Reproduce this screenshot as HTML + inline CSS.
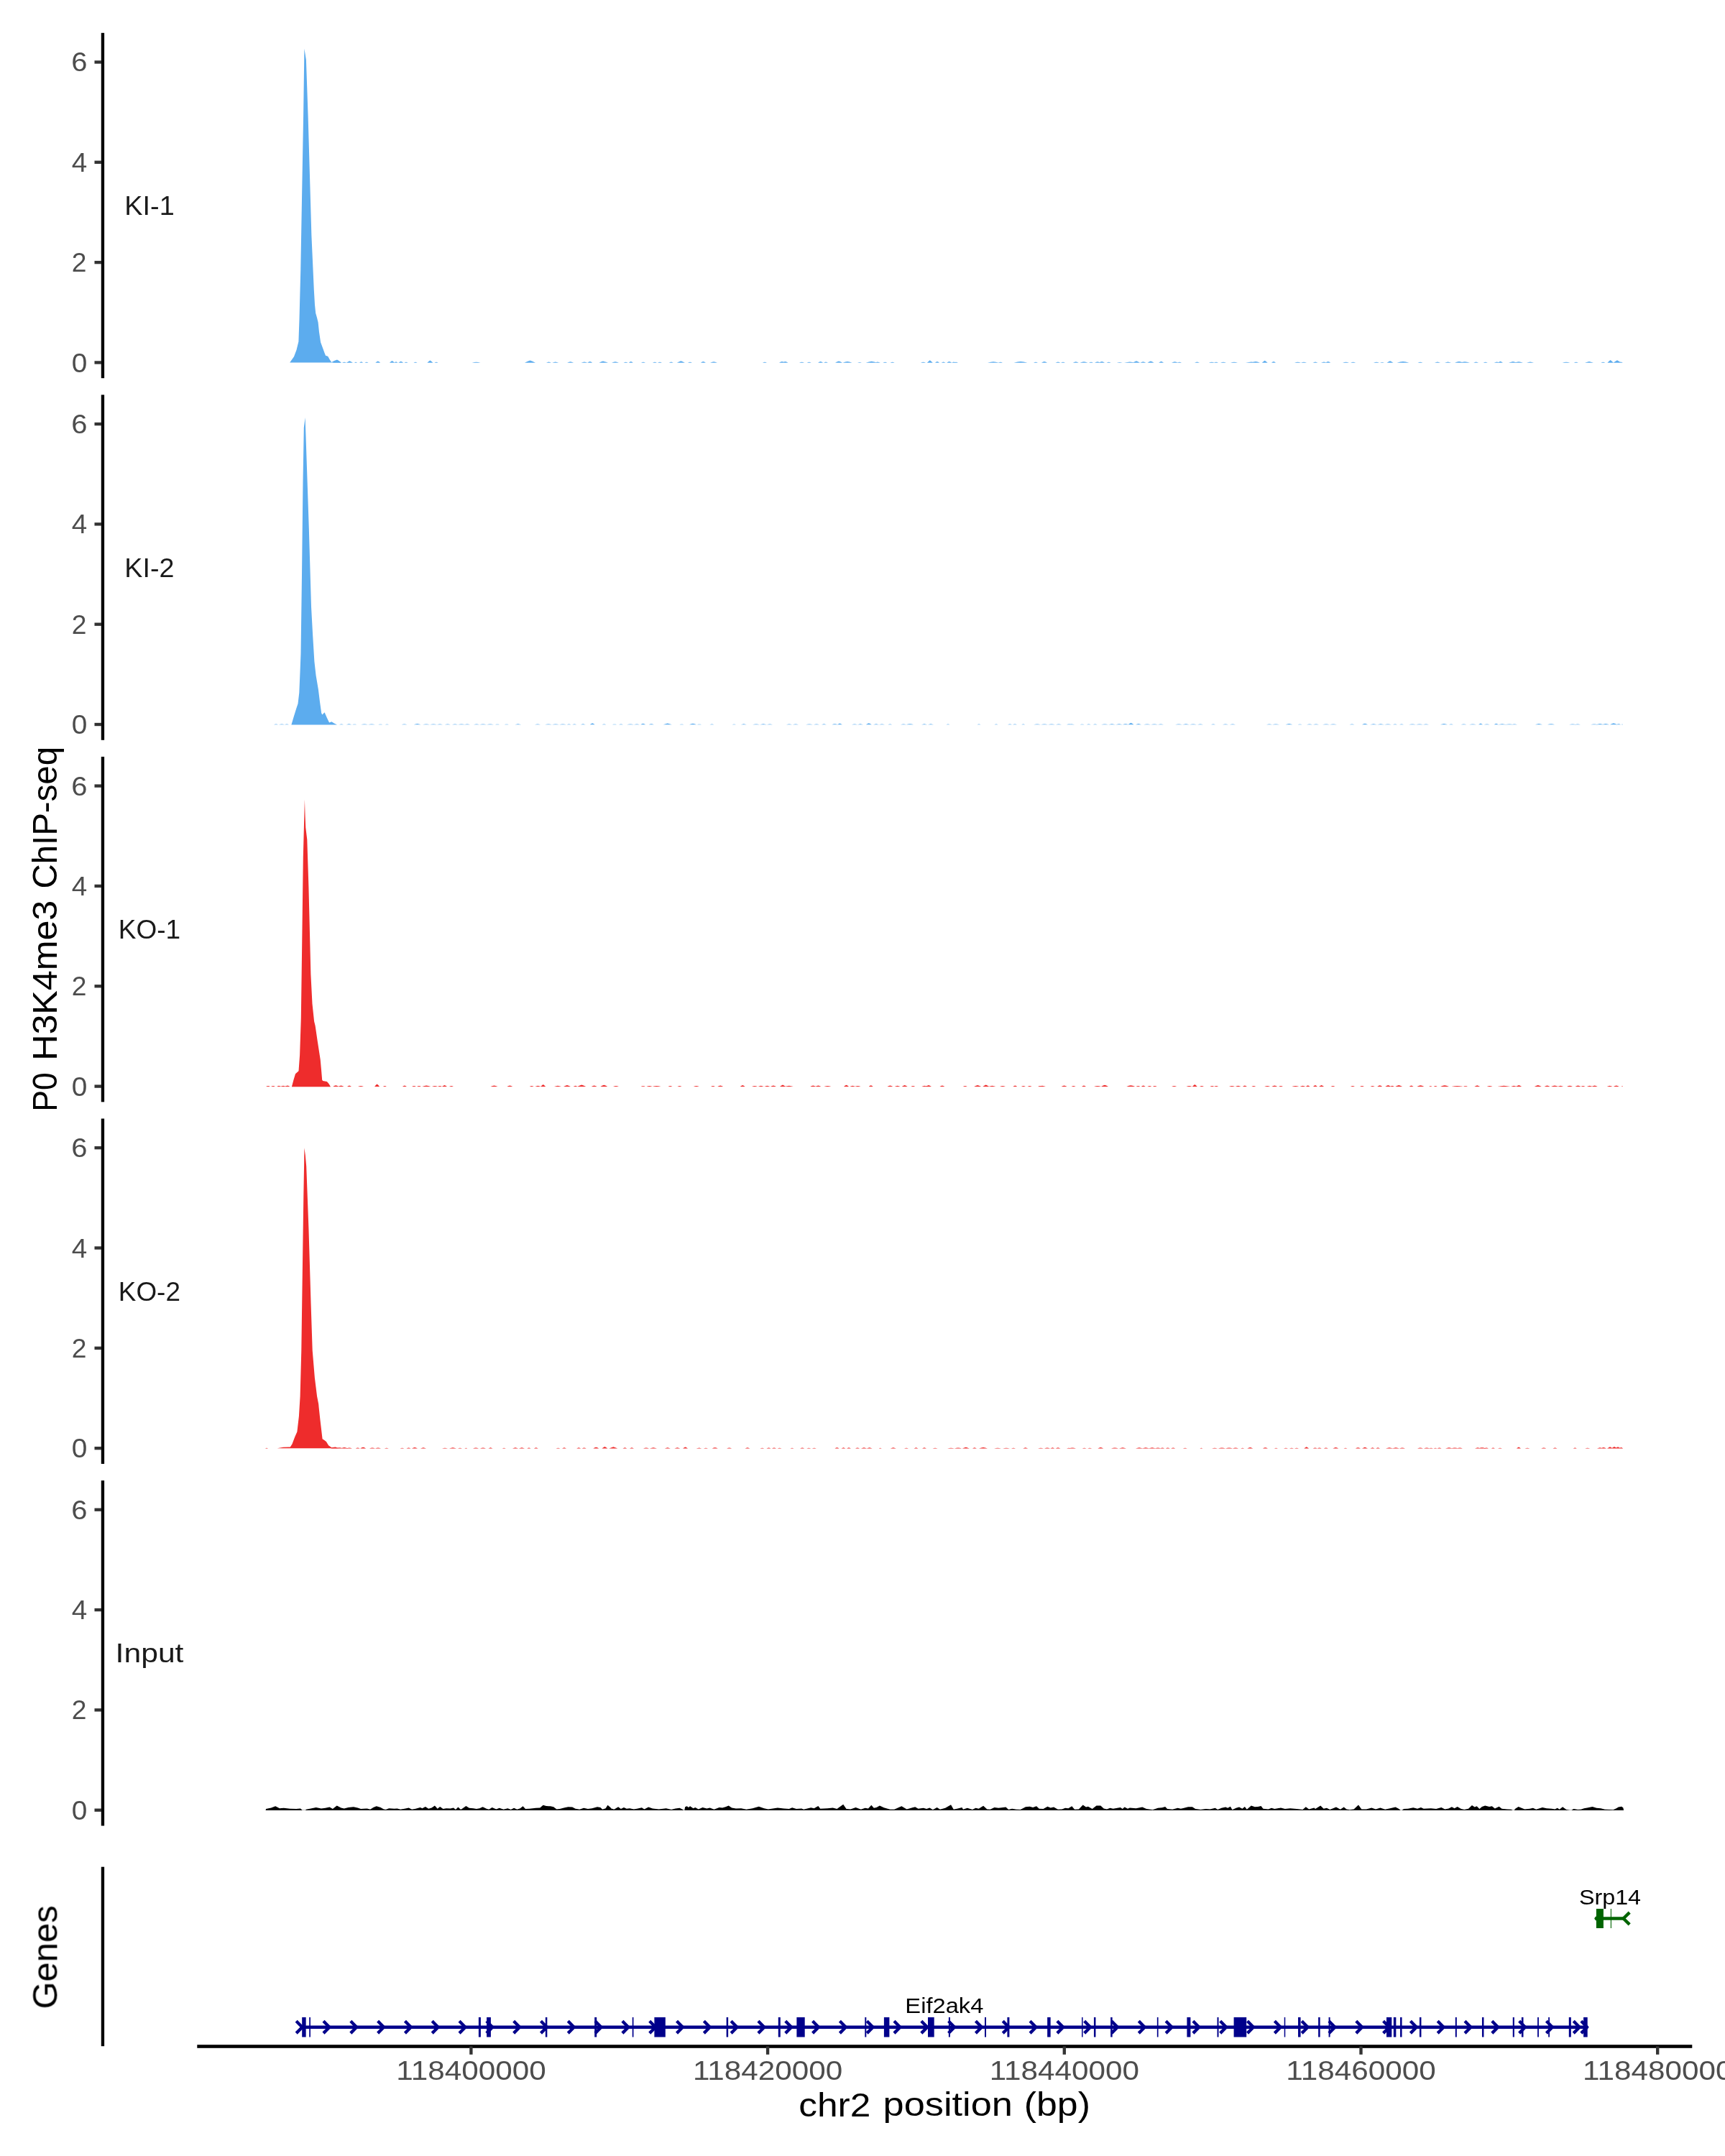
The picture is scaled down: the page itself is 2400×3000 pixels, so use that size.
<!DOCTYPE html>
<html lang="en"><head><meta charset="utf-8"><title>P0 H3K4me3 ChIP-seq coverage</title>
<style>
html,body{margin:0;padding:0;background:#fff}
svg{display:block}
text{font-family:"Liberation Sans",sans-serif;white-space:pre}
</style></head><body>
<svg width="2400" height="3000" viewBox="0 0 2400 3000" role="img" aria-label="H3K4me3 ChIP-seq coverage tracks with gene annotation">
<rect width="2400" height="3000" fill="#fff"/>
<rect x="140.77" y="45.8" width="4.35" height="480.4" fill="#000000"/>
<rect x="131.49" y="502.27" width="9.59" height="4.35" fill="#333333"/>
<rect x="131.49" y="362.94" width="9.59" height="4.35" fill="#333333"/>
<rect x="131.49" y="223.59" width="9.59" height="4.35" fill="#333333"/>
<rect x="131.49" y="84.26" width="9.59" height="4.35" fill="#333333"/>
<rect x="140.77" y="549.37" width="4.35" height="480.4" fill="#000000"/>
<rect x="131.49" y="1005.85" width="9.59" height="4.35" fill="#333333"/>
<rect x="131.49" y="866.5" width="9.59" height="4.35" fill="#333333"/>
<rect x="131.49" y="727.16" width="9.59" height="4.35" fill="#333333"/>
<rect x="131.49" y="587.83" width="9.59" height="4.35" fill="#333333"/>
<rect x="140.77" y="1052.94" width="4.35" height="480.4" fill="#000000"/>
<rect x="131.49" y="1509.41" width="9.59" height="4.35" fill="#333333"/>
<rect x="131.49" y="1370.08" width="9.59" height="4.35" fill="#333333"/>
<rect x="131.49" y="1230.73" width="9.59" height="4.35" fill="#333333"/>
<rect x="131.49" y="1091.39" width="9.59" height="4.35" fill="#333333"/>
<rect x="140.77" y="1556.51" width="4.35" height="480.4" fill="#000000"/>
<rect x="131.49" y="2012.99" width="9.59" height="4.35" fill="#333333"/>
<rect x="131.49" y="1873.65" width="9.59" height="4.35" fill="#333333"/>
<rect x="131.49" y="1734.31" width="9.59" height="4.35" fill="#333333"/>
<rect x="131.49" y="1594.97" width="9.59" height="4.35" fill="#333333"/>
<rect x="140.77" y="2060.08" width="4.35" height="480.4" fill="#000000"/>
<rect x="131.49" y="2516.55" width="9.59" height="4.35" fill="#333333"/>
<rect x="131.49" y="2377.21" width="9.59" height="4.35" fill="#333333"/>
<rect x="131.49" y="2237.88" width="9.59" height="4.35" fill="#333333"/>
<rect x="131.49" y="2098.53" width="9.59" height="4.35" fill="#333333"/>
<rect x="140.77" y="2597.7" width="4.35" height="249.5" fill="#000000"/>
<rect x="274.3" y="2845.2" width="2080" height="4.6" fill="#000000"/>
<rect x="653.23" y="2847.4" width="4.35" height="11.4" fill="#333333"/>
<rect x="1065.92" y="2847.4" width="4.35" height="11.4" fill="#333333"/>
<rect x="1478.62" y="2847.4" width="4.35" height="11.4" fill="#333333"/>
<rect x="1891.33" y="2847.4" width="4.35" height="11.4" fill="#333333"/>
<rect x="2304.02" y="2847.4" width="4.35" height="11.4" fill="#333333"/>
<path d="M403.2 504.4L409 496.15L412.5 486.95L415.4 475.25L416.5 443.95L418.3 374.35L420.1 271.95L422.1 161.25L423.1 89.95L423.4 67.75L424.6 74.95L425.9 83.35L428.6 161.25L431.8 272.55L433.4 327.95L436.8 403.35L438 423.95L439.2 435.85L441 441.95L442.6 448.55L444 461.95L446.1 476.35L449.6 485.65L451.5 490.95L453.1 494.95L455 495.35L456.5 496.15L458.5 499.95L461.2 503.95L465 501.95L468.7 500.75L471.5 502.35L474.5 504.4Z" fill="#5CACEE"/>
<path d="M405.4 1008.44L408.8 996.92L412.3 985.72L414.5 979.22L416.3 963.92L417.5 935.42L418.5 909.42L420 800.42L421.5 669.42L422.8 595.32L424.6 581.12L425.4 604.02L429.8 734.92L433 843.92L435.2 884.42L437.4 920.42L439.6 939.92L442.9 959.42L445 976.42L447.2 992.22L448.3 994.42L451.6 991.22L454.5 997.92L458.1 1005.42L461.4 1004.22L465 1006.42L469 1008.44Z" fill="#5CACEE"/>
<path d="M405.9 1512.18L408.5 1502.59L411 1494.29L415.5 1490.19L417.1 1468.19L418.8 1417.09L420.2 1315.09L421.8 1192.59L423.3 1135.59L423.9 1112.59L424.6 1135.59L425.3 1151.79L427.3 1168.19L429.4 1233.49L432.4 1355.89L434.5 1396.69L437.1 1421.19L438.6 1427.29L441.6 1447.69L445.7 1474.29L447 1488.59L448.2 1502.79L449.2 1503.89L454.9 1504.89L457.5 1508.09L460 1512.18Z" fill="#EE2C2C"/>
<path d="M385.6 2015.32L394.2 2013.86L403.8 2013.46L406.5 2009.16L410.2 1999.56L413.4 1992.16L415.9 1970.76L417.6 1943.06L419.3 1878.96L420.8 1772.16L422.3 1665.56L423.1 1620.16L423.4 1597.16L424.8 1607.16L426.2 1622.86L429.4 1708.16L432.6 1814.96L434.7 1878.96L437.9 1917.36L441.1 1943.06L443.2 1953.66L443.6 1958.16L445.4 1975.06L448.6 2002.36L451 2003.66L453.9 2005.96L457.1 2011.36L461.4 2014.16L466.7 2013.46L471 2015.32Z" fill="#EE2C2C"/>
<path d="M463 504.75L466.3 502.25L469 500.45L471.7 502.25L475 504.75ZM481.9 504.75L484.38 503.19L486.4 502.15L488.42 503.19L490.9 504.75ZM476 504.75L477.65 504.01L479 503.65L480.35 504.01L482 504.75ZM500.1 504.75L501.48 503.79L502.6 503.25L503.73 503.79L505.1 504.75ZM493 504.75L494.1 504.12L495 503.85L495.9 504.12L497 504.75ZM507.5 504.75L508.88 504.12L510 503.85L511.12 504.12L512.5 504.75ZM522.3 504.75L524.22 503.35L525.8 502.45L527.38 503.35L529.3 504.75ZM542 504.75L543.92 503.07L545.5 501.95L547.08 503.07L549 504.75ZM548.5 504.75L549.88 503.79L551 503.25L552.12 503.79L553.5 504.75ZM554.3 504.75L556.22 503.57L557.8 502.85L559.38 503.57L561.3 504.75ZM562.5 504.75L563.88 504.12L565 503.85L566.12 504.12L567.5 504.75ZM575.5 504.75L576.88 504.12L578 503.85L579.12 504.12L580.5 504.75ZM594.4 504.75L596.6 502.8L598.4 501.45L600.2 502.8L602.4 504.75ZM604.5 504.75L605.88 504.12L607 503.85L608.12 504.12L609.5 504.75ZM656.6 504.75L659.9 504.01L662.6 503.65L665.3 504.01L668.6 504.75ZM730 504.75L734.12 502.8L737.5 501.45L740.88 502.8L745 504.75ZM760 504.75L761.92 503.9L763.5 503.45L765.08 503.9L767 504.75ZM768.3 504.75L770.77 503.9L772.8 503.45L774.82 503.9L777.3 504.75ZM789.1 504.75L791.58 503.79L793.6 503.25L795.62 503.79L798.1 504.75ZM808.5 504.75L810.98 503.9L813 503.45L815.02 503.9L817.5 504.75ZM817.3 504.75L819.22 503.62L820.8 502.95L822.38 503.62L824.3 504.75ZM833.5 504.75L836.52 503.35L839 502.45L841.48 503.35L844.5 504.75ZM834 504.75L837.3 503.62L840 502.95L842.7 503.62L846 504.75ZM851 504.75L853.75 503.79L856 503.25L858.25 503.79L861 504.75ZM867.6 504.75L869.25 504.12L870.6 503.85L871.95 504.12L873.6 504.75ZM874.8 504.75L876.45 503.62L877.8 502.95L879.15 503.62L880.8 504.75ZM892 504.75L893.65 504.06L895 503.75L896.35 504.06L898 504.75ZM908 504.75L909.65 504.06L911 503.75L912.35 504.06L914 504.75ZM915 504.75L916.65 504.06L918 503.75L919.35 504.06L921 504.75ZM930.8 504.75L932.45 503.95L933.8 503.55L935.15 503.95L936.8 504.75ZM941.9 504.75L944.92 503.19L947.4 502.15L949.88 503.19L952.9 504.75ZM957 504.75L958.65 504.06L960 503.75L961.35 504.06L963 504.75ZM974.9 504.75L976.82 503.62L978.4 502.95L979.98 503.62L981.9 504.75ZM988 504.75L990.75 503.79L993 503.25L995.25 503.79L998 504.75ZM1061 504.75L1062.65 504.06L1064 503.75L1065.35 504.06L1067 504.75ZM1084 504.75L1086.2 503.62L1088 502.95L1089.8 503.62L1092 504.75ZM1088.5 504.75L1090.7 503.62L1092.5 502.95L1094.3 503.62L1096.5 504.75ZM1112 504.75L1113.92 504.06L1115.5 503.75L1117.08 504.06L1119 504.75ZM1122.7 504.75L1124.35 504.06L1125.7 503.75L1127.05 504.06L1128.7 504.75ZM1138.1 504.75L1140.02 503.62L1141.6 502.95L1143.17 503.62L1145.1 504.75ZM1146 504.75L1147.65 503.9L1149 503.45L1150.35 503.9L1152 504.75ZM1162 504.75L1164.75 503.35L1167 502.45L1169.25 503.35L1172 504.75ZM1172.5 504.75L1176.08 503.62L1179 502.95L1181.92 503.62L1185.5 504.75ZM1193 504.75L1194.65 504.23L1196 504.05L1197.35 504.23L1199 504.75ZM1204.6 504.75L1209 503.51L1212.6 502.75L1216.2 503.51L1220.6 504.75ZM1217 504.75L1219.2 503.9L1221 503.45L1222.8 503.9L1225 504.75ZM1228.4 504.75L1230.05 504.06L1231.4 503.75L1232.75 504.06L1234.4 504.75ZM1238.6 504.75L1240.25 504.06L1241.6 503.75L1242.95 504.06L1244.6 504.75ZM1281 504.75L1282.92 504.06L1284.5 503.75L1286.08 504.06L1288 504.75ZM1289.8 504.75L1292 502.69L1293.8 501.25L1295.6 502.69L1297.8 504.75ZM1301 504.75L1302.65 503.62L1304 502.95L1305.35 503.62L1307 504.75ZM1309.6 504.75L1311.25 503.95L1312.6 503.55L1313.95 503.95L1315.6 504.75ZM1317.2 504.75L1319.12 503.62L1320.7 502.95L1322.28 503.62L1324.2 504.75ZM1324 504.75L1325.65 503.9L1327 503.45L1328.35 503.9L1330 504.75ZM1327 504.75L1328.65 504.12L1330 503.85L1331.35 504.12L1333 504.75ZM1374 504.75L1378.4 503.79L1382 503.25L1385.6 503.79L1390 504.75ZM1389 504.75L1390.65 504.12L1392 503.85L1393.35 504.12L1395 504.75ZM1410.5 504.75L1415.72 503.62L1420 502.95L1424.28 503.62L1429.5 504.75ZM1438 504.75L1439.65 504.12L1441 503.85L1442.35 504.12L1444 504.75ZM1449 504.75L1451.2 503.62L1453 502.95L1454.8 503.62L1457 504.75ZM1468.5 504.75L1470.42 503.9L1472 503.45L1473.58 503.9L1475.5 504.75ZM1476 504.75L1477.65 504.12L1479 503.85L1480.35 504.12L1482 504.75ZM1492.8 504.75L1495 503.79L1496.8 503.25L1498.6 503.79L1500.8 504.75ZM1502.5 504.75L1505.53 503.79L1508 503.25L1510.47 503.79L1513.5 504.75ZM1515 504.75L1516.65 504.12L1518 503.85L1519.35 504.12L1521 504.75ZM1523 504.75L1525.2 503.79L1527 503.25L1528.8 503.79L1531 504.75ZM1529 504.75L1531.2 503.62L1533 502.95L1534.8 503.62L1537 504.75ZM1539.6 504.75L1541.25 504.01L1542.6 503.65L1543.95 504.01L1545.6 504.75ZM1553.7 504.75L1555.9 504.18L1557.7 503.95L1559.5 504.18L1561.7 504.75ZM1564 504.75L1568.4 503.95L1572 503.55L1575.6 503.95L1580 504.75ZM1576 504.75L1578.75 503.19L1581 502.15L1583.25 503.19L1586 504.75ZM1586.4 504.75L1588.6 503.79L1590.4 503.25L1592.2 503.79L1594.4 504.75ZM1596.5 504.75L1598.97 503.35L1601 502.45L1603.03 503.35L1605.5 504.75ZM1612.1 504.75L1614.02 503.51L1615.6 502.75L1617.17 503.51L1619.1 504.75ZM1630 504.75L1632.47 503.79L1634.5 503.25L1636.53 503.79L1639 504.75ZM1638 504.75L1639.65 504.06L1641 503.75L1642.35 504.06L1644 504.75ZM1662 504.75L1663.92 503.9L1665.5 503.45L1667.08 503.9L1669 504.75ZM1681.8 504.75L1684 504.06L1685.8 503.75L1687.6 504.06L1689.8 504.75ZM1689 504.75L1690.65 504.06L1692 503.75L1693.35 504.06L1695 504.75ZM1698 504.75L1700.2 504.06L1702 503.75L1703.8 504.06L1706 504.75ZM1712 504.75L1714.75 504.01L1717 503.65L1719.25 504.01L1722 504.75ZM1733 504.75L1737.4 503.95L1741 503.55L1744.6 503.95L1749 504.75ZM1741 504.75L1744.3 503.62L1747 502.95L1749.7 503.62L1753 504.75ZM1755.7 504.75L1757.9 503.02L1759.7 501.85L1761.5 503.02L1763.7 504.75ZM1769 504.75L1770.65 503.62L1772 502.95L1773.35 503.62L1775 504.75ZM1801 504.75L1803.47 504.01L1805.5 503.65L1807.53 504.01L1810 504.75ZM1810 504.75L1812.2 504.06L1814 503.75L1815.8 504.06L1818 504.75ZM1826.5 504.75L1828.42 503.9L1830 503.45L1831.58 503.9L1833.5 504.75ZM1838 504.75L1840.2 503.9L1842 503.45L1843.8 503.9L1846 504.75ZM1844.3 504.75L1846.22 503.62L1847.8 502.95L1849.38 503.62L1851.3 504.75ZM1868 504.75L1870.47 504.01L1872.5 503.65L1874.53 504.01L1877 504.75ZM1879.1 504.75L1881.02 504.01L1882.6 503.65L1884.17 504.01L1886.1 504.75ZM1911 504.75L1913.2 504.01L1915 503.65L1916.8 504.01L1919 504.75ZM1920 504.75L1921.65 504.23L1923 504.05L1924.35 504.23L1926 504.75ZM1929.5 504.75L1931.97 503.19L1934 502.15L1936.03 503.19L1938.5 504.75ZM1943.5 504.75L1948.17 503.62L1952 502.95L1955.83 503.62L1960.5 504.75ZM1972.5 504.75L1974.42 504.01L1976 503.65L1977.58 504.01L1979.5 504.75ZM1996 504.75L1998.2 503.9L2000 503.45L2001.8 503.9L2004 504.75ZM2010 504.75L2012.47 503.9L2014.5 503.45L2016.53 503.9L2019 504.75ZM2024 504.75L2027.3 503.62L2030 502.95L2032.7 503.62L2036 504.75ZM2031 504.75L2034.85 503.79L2038 503.25L2041.15 503.79L2045 504.75ZM2050.1 504.75L2052.03 503.9L2053.6 503.45L2055.17 503.9L2057.1 504.75ZM2063.7 504.75L2065.35 504.06L2066.7 503.75L2068.05 504.06L2069.7 504.75ZM2078.6 504.75L2080.8 503.9L2082.6 503.45L2084.4 503.9L2086.6 504.75ZM2084 504.75L2085.93 503.51L2087.5 502.75L2089.07 503.51L2091 504.75ZM2099 504.75L2102.3 503.68L2105 503.05L2107.7 503.68L2111 504.75ZM2107 504.75L2110.3 503.79L2113 503.25L2115.7 503.79L2119 504.75ZM2124 504.75L2126.75 503.9L2129 503.45L2131.25 503.9L2134 504.75ZM2173.5 504.75L2176.53 504.01L2179 503.65L2181.47 504.01L2184.5 504.75ZM2189.8 504.75L2191.45 504.12L2192.8 503.85L2194.15 504.12L2195.8 504.75ZM2205 504.75L2208.3 503.68L2211 503.05L2213.7 503.68L2217 504.75ZM2227.4 504.75L2229.05 504.01L2230.4 503.65L2231.75 504.01L2233.4 504.75ZM2236.4 504.75L2238.71 502.52L2240.6 500.95L2242.49 502.52L2244.8 504.75ZM2244.5 504.75L2247.53 502.69L2250 501.25L2252.47 502.69L2255.5 504.75ZM2252 504.75L2253.65 503.9L2255 503.45L2256.35 503.9L2258 504.75Z" fill="#5CACEE"/>
<path d="M381 1008.32L382.65 1007.69L384 1007.42L385.35 1007.69L387 1008.32ZM388 1008.32L390.2 1007.75L392 1007.52L393.8 1007.75L396 1008.32ZM396 1008.32L397.65 1007.75L399 1007.52L400.35 1007.75L402 1008.32ZM472 1008.32L473.65 1007.8L475 1007.62L476.35 1007.8L478 1008.32ZM481.6 1008.32L483.8 1007.63L485.6 1007.32L487.4 1007.63L489.6 1008.32ZM490.2 1008.32L491.85 1007.86L493.2 1007.72L494.55 1007.86L496.2 1008.32ZM502 1008.32L504.75 1007.75L507 1007.52L509.25 1007.75L512 1008.32ZM512 1008.32L514.75 1007.75L517 1007.52L519.25 1007.75L522 1008.32ZM526.3 1008.32L527.95 1007.86L529.3 1007.72L530.65 1007.86L532.3 1008.32ZM535.9 1008.32L537.27 1007.86L538.4 1007.72L539.52 1007.86L540.9 1008.32ZM558.5 1008.32L560.7 1007.69L562.5 1007.42L564.3 1007.69L566.5 1008.32ZM575.6 1008.32L578.35 1007.41L580.6 1006.92L582.85 1007.41L585.6 1008.32ZM588 1008.32L590.75 1007.69L593 1007.42L595.25 1007.69L598 1008.32ZM598 1008.32L600.75 1007.75L603 1007.52L605.25 1007.75L608 1008.32ZM608 1008.32L610.2 1007.75L612 1007.52L613.8 1007.75L616 1008.32ZM618.8 1008.32L621 1007.8L622.8 1007.62L624.6 1007.8L626.8 1008.32ZM629 1008.32L631.2 1007.75L633 1007.52L634.8 1007.75L637 1008.32ZM637 1008.32L639.75 1007.69L642 1007.42L644.25 1007.69L647 1008.32ZM646 1008.32L648.2 1007.75L650 1007.52L651.8 1007.75L654 1008.32ZM659 1008.32L661.2 1007.8L663 1007.62L664.8 1007.8L667 1008.32ZM667 1008.32L669.75 1007.75L672 1007.52L674.25 1007.75L677 1008.32ZM677 1008.32L679.75 1007.75L682 1007.52L684.25 1007.75L687 1008.32ZM689 1008.32L690.65 1007.86L692 1007.72L693.35 1007.86L695 1008.32ZM701.8 1008.32L703.45 1007.86L704.8 1007.72L706.15 1007.86L707.8 1008.32ZM716.3 1008.32L718.77 1007.63L720.8 1007.32L722.82 1007.63L725.3 1008.32ZM744 1008.32L746.2 1007.75L748 1007.52L749.8 1007.75L752 1008.32ZM758 1008.32L760.75 1007.8L763 1007.62L765.25 1007.8L768 1008.32ZM768 1008.32L770.75 1007.75L773 1007.52L775.25 1007.75L778 1008.32ZM778 1008.32L780.75 1007.75L783 1007.52L785.25 1007.75L788 1008.32ZM788.6 1008.32L790.25 1007.69L791.6 1007.42L792.95 1007.69L794.6 1008.32ZM796.2 1008.32L797.85 1007.69L799.2 1007.42L800.55 1007.69L802.2 1008.32ZM807.7 1008.32L809.62 1007.63L811.2 1007.32L812.78 1007.63L814.7 1008.32ZM820.7 1008.32L822.62 1007.03L824.2 1006.22L825.78 1007.03L827.7 1008.32ZM837.5 1008.32L839.15 1007.8L840.5 1007.62L841.85 1007.8L843.5 1008.32ZM852 1008.32L853.65 1007.86L855 1007.72L856.35 1007.86L858 1008.32ZM861 1008.32L862.65 1007.8L864 1007.62L865.35 1007.8L867 1008.32ZM872 1008.32L874.75 1007.69L877 1007.42L879.25 1007.69L882 1008.32ZM882 1008.32L884.2 1007.69L886 1007.42L887.8 1007.69L890 1008.32ZM891.2 1008.32L893.12 1007.3L894.7 1006.72L896.28 1007.3L898.2 1008.32ZM902.7 1008.32L904.62 1007.58L906.2 1007.22L907.78 1007.58L909.7 1008.32ZM922.8 1008.32L926.1 1007.19L928.8 1006.52L931.5 1007.19L934.8 1008.32ZM945.4 1008.32L947.05 1007.86L948.4 1007.72L949.75 1007.86L951.4 1008.32ZM959 1008.32L961.75 1007.36L964 1006.82L966.25 1007.36L969 1008.32ZM970 1008.32L971.65 1007.86L973 1007.72L974.35 1007.86L976 1008.32ZM987.5 1008.32L989.15 1007.8L990.5 1007.62L991.85 1007.8L993.5 1008.32ZM1018.8 1008.32L1020.17 1007.86L1021.3 1007.72L1022.42 1007.86L1023.8 1008.32ZM1030.8 1008.32L1033 1007.63L1034.8 1007.32L1036.6 1007.63L1038.8 1008.32ZM1047 1008.32L1049.75 1007.69L1052 1007.42L1054.25 1007.69L1057 1008.32ZM1057 1008.32L1059.75 1007.63L1062 1007.32L1064.25 1007.63L1067 1008.32ZM1067 1008.32L1069.2 1007.75L1071 1007.52L1072.8 1007.75L1075 1008.32ZM1094 1008.32L1096.2 1007.75L1098 1007.52L1099.8 1007.75L1102 1008.32ZM1103 1008.32L1105.2 1007.69L1107 1007.42L1108.8 1007.69L1111 1008.32ZM1121 1008.32L1123.75 1007.69L1126 1007.42L1128.25 1007.69L1131 1008.32ZM1132 1008.32L1134.2 1007.69L1136 1007.42L1137.8 1007.69L1140 1008.32ZM1142.9 1008.32L1144.83 1007.63L1146.4 1007.32L1147.98 1007.63L1149.9 1008.32ZM1157.4 1008.32L1159.6 1007.58L1161.4 1007.22L1163.2 1007.58L1165.4 1008.32ZM1164.9 1008.32L1166.83 1007.14L1168.4 1006.42L1169.98 1007.14L1171.9 1008.32ZM1185 1008.32L1187.2 1007.75L1189 1007.52L1190.8 1007.75L1193 1008.32ZM1193 1008.32L1195.2 1007.63L1197 1007.32L1198.8 1007.63L1201 1008.32ZM1204.8 1008.32L1207 1007.09L1208.8 1006.32L1210.6 1007.09L1212.8 1008.32ZM1215 1008.32L1217.2 1007.63L1219 1007.32L1220.8 1007.63L1223 1008.32ZM1223 1008.32L1225.2 1007.69L1227 1007.42L1228.8 1007.69L1231 1008.32ZM1235.3 1008.32L1236.95 1007.75L1238.3 1007.52L1239.65 1007.75L1241.3 1008.32ZM1253 1008.32L1255.2 1007.69L1257 1007.42L1258.8 1007.69L1261 1008.32ZM1261 1008.32L1263.75 1007.58L1266 1007.22L1268.25 1007.58L1271 1008.32ZM1282 1008.32L1284.2 1007.63L1286 1007.32L1287.8 1007.63L1290 1008.32ZM1291 1008.32L1293.2 1007.63L1295 1007.32L1296.8 1007.63L1299 1008.32ZM1316.5 1008.32L1317.88 1007.8L1319 1007.62L1320.12 1007.8L1321.5 1008.32ZM1359.5 1008.32L1360.88 1007.8L1362 1007.62L1363.12 1007.8L1364.5 1008.32ZM1383.5 1008.32L1384.88 1007.8L1386 1007.62L1387.12 1007.8L1388.5 1008.32ZM1402 1008.32L1403.65 1007.75L1405 1007.52L1406.35 1007.75L1408 1008.32ZM1409 1008.32L1410.65 1007.75L1412 1007.52L1413.35 1007.75L1415 1008.32ZM1421.2 1008.32L1422.58 1007.8L1423.7 1007.62L1424.83 1007.8L1426.2 1008.32ZM1438 1008.32L1440.75 1007.75L1443 1007.52L1445.25 1007.75L1448 1008.32ZM1448 1008.32L1450.75 1007.69L1453 1007.42L1455.25 1007.69L1458 1008.32ZM1458 1008.32L1460.75 1007.69L1463 1007.42L1465.25 1007.69L1468 1008.32ZM1469 1008.32L1471.2 1007.75L1473 1007.52L1474.8 1007.75L1477 1008.32ZM1484 1008.32L1485.65 1007.75L1487 1007.52L1488.35 1007.75L1490 1008.32ZM1486.1 1008.32L1488.57 1007.75L1490.6 1007.52L1492.62 1007.75L1495.1 1008.32ZM1502.6 1008.32L1504.25 1007.86L1505.6 1007.72L1506.95 1007.86L1508.6 1008.32ZM1511.7 1008.32L1513.35 1007.75L1514.7 1007.52L1516.05 1007.75L1517.7 1008.32ZM1520.7 1008.32L1522.35 1007.75L1523.7 1007.52L1525.05 1007.75L1526.7 1008.32ZM1532 1008.32L1534.75 1007.75L1537 1007.52L1539.25 1007.75L1542 1008.32ZM1542 1008.32L1544.75 1007.63L1547 1007.32L1549.25 1007.63L1552 1008.32ZM1552 1008.32L1554.75 1007.63L1557 1007.32L1559.25 1007.63L1562 1008.32ZM1562 1008.32L1564.2 1007.58L1566 1007.22L1567.8 1007.58L1570 1008.32ZM1569.5 1008.32L1571.7 1006.81L1573.5 1005.82L1575.3 1006.81L1577.5 1008.32ZM1580 1008.32L1582.2 1007.47L1584 1007.02L1585.8 1007.47L1588 1008.32ZM1591 1008.32L1593.75 1007.69L1596 1007.42L1598.25 1007.69L1601 1008.32ZM1601 1008.32L1603.75 1007.69L1606 1007.42L1608.25 1007.69L1611 1008.32ZM1611 1008.32L1613.2 1007.75L1615 1007.52L1616.8 1007.75L1619 1008.32ZM1635 1008.32L1637.75 1007.69L1640 1007.42L1642.25 1007.69L1645 1008.32ZM1645 1008.32L1647.75 1007.63L1650 1007.32L1652.25 1007.63L1655 1008.32ZM1655 1008.32L1657.75 1007.69L1660 1007.42L1662.25 1007.69L1665 1008.32ZM1666 1008.32L1668.2 1007.75L1670 1007.52L1671.8 1007.75L1674 1008.32ZM1685 1008.32L1686.65 1007.8L1688 1007.62L1689.35 1007.8L1691 1008.32ZM1701 1008.32L1703.2 1007.75L1705 1007.52L1706.8 1007.75L1709 1008.32ZM1711 1008.32L1713.2 1007.75L1715 1007.52L1716.8 1007.75L1719 1008.32ZM1762 1008.32L1764.2 1007.75L1766 1007.52L1767.8 1007.75L1770 1008.32ZM1770 1008.32L1772.75 1007.69L1775 1007.42L1777.25 1007.69L1780 1008.32ZM1788.5 1008.32L1791.25 1007.52L1793.5 1007.12L1795.75 1007.52L1798.5 1008.32ZM1805.6 1008.32L1807.25 1007.86L1808.6 1007.72L1809.95 1007.86L1811.6 1008.32ZM1818 1008.32L1820.2 1007.8L1822 1007.62L1823.8 1007.8L1826 1008.32ZM1827 1008.32L1829.2 1007.8L1831 1007.62L1832.8 1007.8L1835 1008.32ZM1840 1008.32L1842.75 1007.75L1845 1007.52L1847.25 1007.75L1850 1008.32ZM1850 1008.32L1852.75 1007.69L1855 1007.42L1857.25 1007.69L1860 1008.32ZM1877.5 1008.32L1879.42 1007.69L1881 1007.42L1882.58 1007.69L1884.5 1008.32ZM1895 1008.32L1897.2 1007.3L1899 1006.72L1900.8 1007.3L1903 1008.32ZM1906 1008.32L1908.75 1007.63L1911 1007.32L1913.25 1007.63L1916 1008.32ZM1916 1008.32L1918.75 1007.63L1921 1007.32L1923.25 1007.63L1926 1008.32ZM1926 1008.32L1928.75 1007.69L1931 1007.42L1933.25 1007.69L1936 1008.32ZM1938 1008.32L1939.65 1007.8L1941 1007.62L1942.35 1007.8L1944 1008.32ZM1947 1008.32L1948.65 1007.8L1950 1007.62L1951.35 1007.8L1953 1008.32ZM1960 1008.32L1962.75 1007.75L1965 1007.52L1967.25 1007.75L1970 1008.32ZM1970 1008.32L1972.75 1007.69L1975 1007.42L1977.25 1007.69L1980 1008.32ZM1980 1008.32L1982.2 1007.75L1984 1007.52L1985.8 1007.75L1988 1008.32ZM2004 1008.32L2006.75 1007.52L2009 1007.12L2011.25 1007.52L2014 1008.32ZM2016 1008.32L2017.65 1007.8L2019 1007.62L2020.35 1007.8L2022 1008.32ZM2032.5 1008.32L2034.7 1007.8L2036.5 1007.62L2038.3 1007.8L2040.5 1008.32ZM2044 1008.32L2046.75 1007.69L2049 1007.42L2051.25 1007.69L2054 1008.32ZM2057 1008.32L2058.65 1007.14L2060 1006.42L2061.35 1007.14L2063 1008.32ZM2064.7 1008.32L2066.9 1007.69L2068.7 1007.42L2070.5 1007.69L2072.7 1008.32ZM2078.7 1008.32L2080.35 1007.3L2081.7 1006.72L2083.05 1007.3L2084.7 1008.32ZM2084 1008.32L2087.3 1007.63L2090 1007.32L2092.7 1007.63L2096 1008.32ZM2094 1008.32L2097.3 1007.69L2100 1007.42L2102.7 1007.69L2106 1008.32ZM2103 1008.32L2105.2 1007.75L2107 1007.52L2108.8 1007.75L2111 1008.32ZM2136 1008.32L2138.75 1007.52L2141 1007.12L2143.25 1007.52L2146 1008.32ZM2153 1008.32L2155.75 1007.58L2158 1007.22L2160.25 1007.58L2163 1008.32ZM2183 1008.32L2185.75 1007.69L2188 1007.42L2190.25 1007.69L2193 1008.32ZM2191 1008.32L2193.2 1007.69L2195 1007.42L2196.8 1007.69L2199 1008.32ZM2213 1008.32L2215.75 1007.69L2218 1007.42L2220.25 1007.69L2223 1008.32ZM2221 1008.32L2223.75 1007.52L2226 1007.12L2228.25 1007.52L2231 1008.32ZM2229 1008.32L2231.75 1007.52L2234 1007.12L2236.25 1007.52L2239 1008.32ZM2240 1008.32L2242.75 1007.09L2245 1006.32L2247.25 1007.09L2250 1008.32ZM2249 1008.32L2250.65 1007.58L2252 1007.22L2253.35 1007.58L2255 1008.32ZM2255.8 1008.32L2256.46 1007.86L2257 1007.72L2257.54 1007.86L2258.2 1008.32Z" fill="#5CACEE"/>
<path d="M370 1511.89L371.65 1511.26L373 1510.99L374.35 1511.26L376 1511.89ZM377 1511.89L378.65 1511.26L380 1510.99L381.35 1511.26L383 1511.89ZM385 1511.89L386.65 1511.15L388 1510.79L389.35 1511.15L391 1511.89ZM390 1511.89L392.2 1511.15L394 1510.79L395.8 1511.15L398 1511.89ZM396.5 1511.89L398.43 1510.98L400 1510.49L401.57 1510.98L403.5 1511.89ZM463.2 1511.89L465.4 1510.82L467.2 1510.19L469 1510.82L471.2 1511.89ZM470.5 1511.89L472.7 1510.93L474.5 1510.39L476.3 1510.93L478.5 1511.89ZM483 1511.89L484.65 1511.04L486 1510.59L487.35 1511.04L489 1511.89ZM498 1511.89L500.2 1511.31L502 1511.09L503.8 1511.31L506 1511.89ZM521.1 1511.89L523.02 1509.83L524.6 1508.39L526.18 1509.83L528.1 1511.89ZM532.9 1511.89L534.27 1511.26L535.4 1510.99L536.52 1511.26L537.9 1511.89ZM559.9 1511.89L561.55 1510.93L562.9 1510.39L564.25 1510.93L565.9 1511.89ZM573 1511.89L574.65 1511.31L576 1511.09L577.35 1511.31L579 1511.89ZM580 1511.89L581.65 1511.31L583 1511.09L584.35 1511.31L586 1511.89ZM587.3 1511.89L590.6 1510.93L593.3 1510.39L596 1510.93L599.3 1511.89ZM601 1511.89L603.2 1511.2L605 1510.89L606.8 1511.2L609 1511.89ZM609 1511.89L610.65 1511.2L612 1510.89L613.35 1511.2L615 1511.89ZM615 1511.89L616.92 1510.76L618.5 1510.09L620.08 1510.76L622 1511.89ZM625 1511.89L626.65 1511.26L628 1510.99L629.35 1511.26L631 1511.89ZM682.5 1511.89L685.25 1511.04L687.5 1510.59L689.75 1511.04L692.5 1511.89ZM705.3 1511.89L707.5 1510.93L709.3 1510.39L711.1 1510.93L713.3 1511.89ZM736.7 1511.89L738.35 1511.31L739.7 1511.09L741.05 1511.31L742.7 1511.89ZM744.4 1511.89L746.6 1511.15L748.4 1510.79L750.2 1511.15L752.4 1511.89ZM752.2 1511.89L754.12 1510.21L755.7 1509.09L757.28 1510.21L759.2 1511.89ZM771 1511.89L773.75 1511.15L776 1510.79L778.25 1511.15L781 1511.89ZM784 1511.89L786.75 1510.76L789 1510.09L791.25 1510.76L794 1511.89ZM797.6 1511.89L799.25 1511.15L800.6 1510.79L801.95 1511.15L803.6 1511.89ZM803.3 1511.89L806.6 1510.49L809.3 1509.59L812 1510.49L815.3 1511.89ZM822.7 1511.89L824.9 1510.93L826.7 1510.39L828.5 1510.93L830.7 1511.89ZM835.3 1511.89L838.05 1510.6L840.3 1509.79L842.55 1510.6L845.3 1511.89ZM853 1511.89L855.2 1511.26L857 1510.99L858.8 1511.26L861 1511.89ZM891.8 1511.89L893.45 1511.37L894.8 1511.19L896.15 1511.37L897.8 1511.89ZM899.5 1511.89L901.7 1511.31L903.5 1511.09L905.3 1511.31L907.5 1511.89ZM907.6 1511.89L910.9 1511.2L913.6 1510.89L916.3 1511.2L919.6 1511.89ZM929.5 1511.89L931.15 1511.26L932.5 1510.99L933.85 1511.26L935.5 1511.89ZM942.5 1511.89L944.15 1511.26L945.5 1510.99L946.85 1511.26L948.5 1511.89ZM964.8 1511.89L967 1511.26L968.8 1510.99L970.6 1511.26L972.8 1511.89ZM989 1511.89L990.65 1511.31L992 1511.09L993.35 1511.31L995 1511.89ZM998.2 1511.89L1000.4 1511.04L1002.2 1510.59L1004 1511.04L1006.2 1511.89ZM1029.7 1511.89L1031.62 1510.76L1033.2 1510.09L1034.78 1510.76L1036.7 1511.89ZM1046 1511.89L1048.2 1511.2L1050 1510.89L1051.8 1511.2L1054 1511.89ZM1054.7 1511.89L1056.9 1511.15L1058.7 1510.79L1060.5 1511.15L1062.7 1511.89ZM1063.4 1511.89L1065.6 1511.15L1067.4 1510.79L1069.2 1511.15L1071.4 1511.89ZM1072 1511.89L1074.2 1510.93L1076 1510.39L1077.8 1510.93L1080 1511.89ZM1085 1511.89L1087.2 1510.38L1089 1509.39L1090.8 1510.38L1093 1511.89ZM1091.8 1511.89L1095.1 1511.15L1097.8 1510.79L1100.5 1511.15L1103.8 1511.89ZM1127.2 1511.89L1129.4 1511.04L1131.2 1510.59L1133 1511.04L1135.2 1511.89ZM1134.4 1511.89L1136.6 1510.93L1138.4 1510.39L1140.2 1510.93L1142.4 1511.89ZM1146.4 1511.89L1149.15 1511.26L1151.4 1510.99L1153.65 1511.26L1156.4 1511.89ZM1174 1511.89L1175.92 1510.6L1177.5 1509.79L1179.08 1510.6L1181 1511.89ZM1182.2 1511.89L1184.4 1511.15L1186.2 1510.79L1188 1511.15L1190.2 1511.89ZM1189.5 1511.89L1191.7 1511.26L1193.5 1510.99L1195.3 1511.26L1197.5 1511.89ZM1208.7 1511.89L1210.35 1510.82L1211.7 1510.19L1213.05 1510.82L1214.7 1511.89ZM1234.4 1511.89L1236.6 1511.04L1238.4 1510.59L1240.2 1511.04L1242.4 1511.89ZM1244.6 1511.89L1246.8 1511.15L1248.6 1510.79L1250.4 1511.15L1252.6 1511.89ZM1254.7 1511.89L1256.9 1510.71L1258.7 1509.99L1260.5 1510.71L1262.7 1511.89ZM1267.3 1511.89L1268.95 1511.2L1270.3 1510.89L1271.65 1511.2L1273.3 1511.89ZM1282.2 1511.89L1284.4 1511.15L1286.2 1510.79L1288 1511.15L1290.2 1511.89ZM1288 1511.89L1290.2 1510.76L1292 1510.09L1293.8 1510.76L1296 1511.89ZM1307.4 1511.89L1309.33 1510.93L1310.9 1510.39L1312.48 1510.93L1314.4 1511.89ZM1339.8 1511.89L1341.45 1511.26L1342.8 1510.99L1344.15 1511.26L1345.8 1511.89ZM1355.1 1511.89L1357.85 1510.71L1360.1 1509.99L1362.35 1510.71L1365.1 1511.89ZM1367.2 1511.89L1369.67 1510.38L1371.7 1509.39L1373.73 1510.38L1376.2 1511.89ZM1375.4 1511.89L1378.15 1511.15L1380.4 1510.79L1382.65 1511.15L1385.4 1511.89ZM1391 1511.89L1393.2 1511.31L1395 1511.09L1396.8 1511.31L1399 1511.89ZM1409.3 1511.89L1410.95 1510.93L1412.3 1510.39L1413.65 1510.93L1415.3 1511.89ZM1420.9 1511.89L1422.55 1511.31L1423.9 1511.09L1425.25 1511.31L1426.9 1511.89ZM1429.6 1511.89L1431.25 1511.31L1432.6 1511.09L1433.95 1511.31L1435.6 1511.89ZM1444 1511.89L1445.65 1511.26L1447 1510.99L1448.35 1511.26L1450 1511.89ZM1445 1511.89L1447.75 1511.15L1450 1510.79L1452.25 1511.15L1455 1511.89ZM1476.6 1511.89L1478.8 1510.93L1480.6 1510.39L1482.4 1510.93L1484.6 1511.89ZM1490.6 1511.89L1492.25 1511.31L1493.6 1511.09L1494.95 1511.31L1496.6 1511.89ZM1505 1511.89L1506.65 1511.04L1508 1510.59L1509.35 1511.04L1511 1511.89ZM1522 1511.89L1524.75 1511.26L1527 1510.99L1529.25 1511.26L1532 1511.89ZM1532 1511.89L1534.75 1510.6L1537 1509.79L1539.25 1510.6L1542 1511.89ZM1567.3 1511.89L1570.6 1510.82L1573.3 1510.19L1576 1510.82L1579.3 1511.89ZM1580.5 1511.89L1582.15 1511.26L1583.5 1510.99L1584.85 1511.26L1586.5 1511.89ZM1587.7 1511.89L1589.35 1511.04L1590.7 1510.59L1592.05 1511.04L1593.7 1511.89ZM1596.4 1511.89L1598.05 1511.31L1599.4 1511.09L1600.75 1511.31L1602.4 1511.89ZM1603.7 1511.89L1605.35 1511.31L1606.7 1511.09L1608.05 1511.31L1609.7 1511.89ZM1630.1 1511.89L1632.02 1511.26L1633.6 1510.99L1635.17 1511.26L1637.1 1511.89ZM1650.5 1511.89L1652.7 1511.31L1654.5 1511.09L1656.3 1511.31L1658.5 1511.89ZM1658.8 1511.89L1660.72 1510.16L1662.3 1508.99L1663.88 1510.16L1665.8 1511.89ZM1669 1511.89L1670.65 1511.26L1672 1510.99L1673.35 1511.26L1675 1511.89ZM1683.4 1511.89L1685.05 1511.26L1686.4 1510.99L1687.75 1511.26L1689.4 1511.89ZM1689.2 1511.89L1690.85 1511.26L1692.2 1510.99L1693.55 1511.26L1695.2 1511.89ZM1710 1511.89L1712.2 1511.26L1714 1510.99L1715.8 1511.26L1718 1511.89ZM1718.6 1511.89L1720.8 1511.15L1722.6 1510.79L1724.4 1511.15L1726.6 1511.89ZM1728.9 1511.89L1730.55 1510.93L1731.9 1510.39L1733.25 1510.93L1734.9 1511.89ZM1741.3 1511.89L1742.95 1511.26L1744.3 1510.99L1745.65 1511.26L1747.3 1511.89ZM1759.2 1511.89L1761.4 1511.31L1763.2 1511.09L1765 1511.31L1767.2 1511.89ZM1769.3 1511.89L1771.5 1510.93L1773.3 1510.39L1775.1 1510.93L1777.3 1511.89ZM1779 1511.89L1780.65 1511.26L1782 1510.99L1783.35 1511.26L1785 1511.89ZM1797.3 1511.89L1800.05 1511.26L1802.3 1510.99L1804.55 1511.26L1807.3 1511.89ZM1808.5 1511.89L1810.7 1511.15L1812.5 1510.79L1814.3 1511.15L1816.5 1511.89ZM1816.7 1511.89L1818.35 1510.88L1819.7 1510.29L1821.05 1510.88L1822.7 1511.89ZM1826.9 1511.89L1828.55 1510.76L1829.9 1510.09L1831.25 1510.76L1832.9 1511.89ZM1835.1 1511.89L1837.02 1510.76L1838.6 1510.09L1840.17 1510.76L1842.1 1511.89ZM1851.5 1511.89L1853.15 1511.26L1854.5 1510.99L1855.85 1511.26L1857.5 1511.89ZM1879 1511.89L1880.65 1511.31L1882 1511.09L1883.35 1511.31L1885 1511.89ZM1892 1511.89L1893.65 1511.31L1895 1511.09L1896.35 1511.31L1898 1511.89ZM1906.6 1511.89L1908.25 1511.26L1909.6 1510.99L1910.95 1511.26L1912.6 1511.89ZM1916.2 1511.89L1918.12 1510.82L1919.7 1510.19L1921.28 1510.82L1923.2 1511.89ZM1927.3 1511.89L1929.5 1510.71L1931.3 1509.99L1933.1 1510.71L1935.3 1511.89ZM1934 1511.89L1935.65 1511.15L1937 1510.79L1938.35 1511.15L1940 1511.89ZM1941.2 1511.89L1943.95 1510.71L1946.2 1509.99L1948.45 1510.71L1951.2 1511.89ZM1960.6 1511.89L1962.25 1510.93L1963.6 1510.39L1964.95 1510.93L1966.6 1511.89ZM1971.4 1511.89L1974.15 1510.82L1976.4 1510.19L1978.65 1510.82L1981.4 1511.89ZM1988.3 1511.89L1989.4 1511.37L1990.3 1511.19L1991.2 1511.37L1992.3 1511.89ZM1994.7 1511.89L1996.08 1511.31L1997.2 1511.09L1998.33 1511.31L1999.7 1511.89ZM2004 1511.89L2007.3 1510.82L2010 1510.19L2012.7 1510.82L2016 1511.89ZM2019.4 1511.89L2023.8 1511.2L2027.4 1510.89L2031 1511.2L2035.4 1511.89ZM2036 1511.89L2037.65 1511.37L2039 1511.19L2040.35 1511.37L2042 1511.89ZM2051.2 1511.89L2053.4 1510.88L2055.2 1510.29L2057 1510.88L2059.2 1511.89ZM2068.6 1511.89L2070.8 1511.31L2072.6 1511.09L2074.4 1511.31L2076.6 1511.89ZM2083.3 1511.89L2088.25 1511.15L2092.3 1510.79L2096.35 1511.15L2101.3 1511.89ZM2102.2 1511.89L2104.4 1511.15L2106.2 1510.79L2108 1511.15L2110.2 1511.89ZM2109.2 1511.89L2111.4 1510.71L2113.2 1509.99L2115 1510.71L2117.2 1511.89ZM2134.8 1511.89L2137.55 1510.76L2139.8 1510.09L2142.05 1510.76L2144.8 1511.89ZM2148.6 1511.89L2150.8 1511.04L2152.6 1510.59L2154.4 1511.04L2156.6 1511.89ZM2158 1511.89L2160.75 1510.93L2163 1510.39L2165.25 1510.93L2168 1511.89ZM2167.2 1511.89L2169.4 1511.15L2171.2 1510.79L2173 1511.15L2175.2 1511.89ZM2180 1511.89L2182.2 1511.1L2184 1510.69L2185.8 1511.1L2188 1511.89ZM2191.5 1511.89L2193.7 1511.04L2195.5 1510.59L2197.3 1511.04L2199.5 1511.89ZM2199.5 1511.89L2201.15 1511.26L2202.5 1510.99L2203.85 1511.26L2205.5 1511.89ZM2207.7 1511.89L2209.9 1511.15L2211.7 1510.79L2213.5 1511.15L2215.7 1511.89ZM2214.7 1511.89L2216.9 1510.93L2218.7 1510.39L2220.5 1510.93L2222.7 1511.89ZM2235.6 1511.89L2237.8 1511.15L2239.6 1510.79L2241.4 1511.15L2243.6 1511.89ZM2244.8 1511.89L2247 1511.04L2248.8 1510.59L2250.6 1511.04L2252.8 1511.89ZM2255.8 1511.89L2256.46 1511.42L2257 1511.29L2257.54 1511.42L2258.2 1511.89Z" fill="#EE2C2C"/>
<path d="M369 2015.46L370.1 2014.88L371 2014.66L371.9 2014.88L373 2015.46ZM460 2015.46L462.75 2014.5L465 2013.96L467.25 2014.5L470 2015.46ZM467 2015.46L469.75 2014.61L472 2014.16L474.25 2014.61L477 2015.46ZM474 2015.46L476.75 2014.5L479 2013.96L481.25 2014.5L484 2015.46ZM482 2015.46L484.2 2014.78L486 2014.46L487.8 2014.78L490 2015.46ZM494.7 2015.46L496.35 2014.83L497.7 2014.56L499.05 2014.83L500.7 2015.46ZM501.2 2015.46L503.4 2014.34L505.2 2013.66L507 2014.34L509.2 2015.46ZM514 2015.46L516.2 2014.78L518 2014.46L519.8 2014.78L522 2015.46ZM522 2015.46L524.2 2014.78L526 2014.46L527.8 2014.78L530 2015.46ZM534.8 2015.46L536.45 2014.94L537.8 2014.76L539.15 2014.94L540.8 2015.46ZM556.5 2015.46L558.15 2014.88L559.5 2014.66L560.85 2014.88L562.5 2015.46ZM565.5 2015.46L567.15 2014.83L568.5 2014.56L569.85 2014.83L571.5 2015.46ZM573 2015.46L575.2 2014.5L577 2013.96L578.8 2014.5L581 2015.46ZM585 2015.46L587.2 2014.67L589 2014.26L590.8 2014.67L593 2015.46ZM615 2015.46L617.2 2014.88L619 2014.66L620.8 2014.88L623 2015.46ZM625 2015.46L627.75 2014.72L630 2014.36L632.25 2014.72L635 2015.46ZM637 2015.46L638.65 2014.88L640 2014.66L641.35 2014.88L643 2015.46ZM646.4 2015.46L647.5 2014.94L648.4 2014.76L649.3 2014.94L650.4 2015.46ZM658 2015.46L660.2 2014.83L662 2014.56L663.8 2014.83L666 2015.46ZM668 2015.46L670.2 2014.78L672 2014.46L673.8 2014.78L676 2015.46ZM679.5 2015.46L681.15 2014.72L682.5 2014.36L683.85 2014.72L685.5 2015.46ZM698.7 2015.46L700.08 2014.94L701.2 2014.76L702.33 2014.94L703.7 2015.46ZM713 2015.46L715.2 2014.67L717 2014.26L718.8 2014.67L721 2015.46ZM722 2015.46L724.2 2014.67L726 2014.26L727.8 2014.67L730 2015.46ZM733.4 2015.46L734.77 2014.83L735.9 2014.56L737.02 2014.83L738.4 2015.46ZM742.8 2015.46L744.45 2014.67L745.8 2014.26L747.15 2014.67L748.8 2015.46ZM773.5 2015.46L775.15 2014.88L776.5 2014.66L777.85 2014.88L779.5 2015.46ZM782 2015.46L783.65 2014.72L785 2014.36L786.35 2014.72L788 2015.46ZM802.2 2015.46L803.85 2014.72L805.2 2014.36L806.55 2014.72L808.2 2015.46ZM809.7 2015.46L811.35 2014.78L812.7 2014.46L814.05 2014.78L815.7 2015.46ZM825.3 2015.46L827.5 2014.34L829.3 2013.66L831.1 2014.34L833.3 2015.46ZM837.4 2015.46L839.6 2013.95L841.4 2012.96L843.2 2013.95L845.4 2015.46ZM847.4 2015.46L850.7 2014.17L853.4 2013.36L856.1 2014.17L859.4 2015.46ZM866.4 2015.46L868.05 2014.72L869.4 2014.36L870.75 2014.72L872.4 2015.46ZM876 2015.46L877.65 2014.72L879 2014.36L880.35 2014.72L882 2015.46ZM895 2015.46L897.2 2014.78L899 2014.46L900.8 2014.78L903 2015.46ZM904 2015.46L906.75 2014.72L909 2014.36L911.25 2014.72L914 2015.46ZM924.8 2015.46L927 2014.72L928.8 2014.36L930.6 2014.72L932.8 2015.46ZM938.4 2015.46L940.6 2014.72L942.4 2014.36L944.2 2014.72L946.4 2015.46ZM950 2015.46L951.92 2014.28L953.5 2013.56L955.08 2014.28L957 2015.46ZM968.5 2015.46L970.7 2014.94L972.5 2014.76L974.3 2014.94L976.5 2015.46ZM970 2015.46L971.65 2015L973 2014.86L974.35 2015L976 2015.46ZM979 2015.46L980.65 2015L982 2014.86L983.35 2015L985 2015.46ZM990.7 2015.46L992.9 2014.61L994.7 2014.16L996.5 2014.61L998.7 2015.46ZM1011.1 2015.46L1013.02 2014.78L1014.6 2014.46L1016.18 2014.78L1018.1 2015.46ZM1036.5 2015.46L1038.42 2014.72L1040 2014.36L1041.58 2014.72L1043.5 2015.46ZM1057.4 2015.46L1059.05 2014.94L1060.4 2014.76L1061.75 2014.94L1063.4 2015.46ZM1066.5 2015.46L1068.15 2014.83L1069.5 2014.56L1070.85 2014.83L1072.5 2015.46ZM1074 2015.46L1075.65 2014.83L1077 2014.56L1078.35 2014.83L1080 2015.46ZM1081.6 2015.46L1083.25 2014.88L1084.6 2014.66L1085.95 2014.88L1087.6 2015.46ZM1099.5 2015.46L1100.88 2014.94L1102 2014.76L1103.12 2014.94L1104.5 2015.46ZM1113.2 2015.46L1114.85 2014.78L1116.2 2014.46L1117.55 2014.78L1119.2 2015.46ZM1122.3 2015.46L1123.95 2014.94L1125.3 2014.76L1126.65 2014.94L1128.3 2015.46ZM1129.8 2015.46L1131.45 2014.94L1132.8 2014.76L1134.15 2014.94L1135.8 2015.46ZM1161.5 2015.46L1163.15 2014.61L1164.5 2014.16L1165.85 2014.61L1167.5 2015.46ZM1170.5 2015.46L1172.15 2014.72L1173.5 2014.36L1174.85 2014.72L1176.5 2015.46ZM1178 2015.46L1179.65 2014.72L1181 2014.36L1182.35 2014.72L1184 2015.46ZM1190 2015.46L1191.65 2014.78L1193 2014.46L1194.35 2014.78L1196 2015.46ZM1198 2015.46L1200.2 2014.67L1202 2014.26L1203.8 2014.67L1206 2015.46ZM1205.7 2015.46L1207.9 2014.67L1209.7 2014.26L1211.5 2014.67L1213.7 2015.46ZM1222.7 2015.46L1223.8 2014.94L1224.7 2014.76L1225.6 2014.94L1226.7 2015.46ZM1238.8 2015.46L1241 2014.67L1242.8 2014.26L1244.6 2014.67L1246.8 2015.46ZM1258 2015.46L1259.65 2014.88L1261 2014.66L1262.35 2014.88L1264 2015.46ZM1271.5 2015.46L1273.15 2014.72L1274.5 2014.36L1275.85 2014.72L1277.5 2015.46ZM1283 2015.46L1284.65 2014.72L1286 2014.36L1287.35 2014.72L1289 2015.46ZM1297.5 2015.46L1299.42 2014.88L1301 2014.66L1302.58 2014.88L1304.5 2015.46ZM1318 2015.46L1320.75 2014.88L1323 2014.66L1325.25 2014.88L1328 2015.46ZM1328 2015.46L1330.75 2014.78L1333 2014.46L1335.25 2014.78L1338 2015.46ZM1338.8 2015.46L1341.55 2014.45L1343.8 2013.86L1346.05 2014.45L1348.8 2015.46ZM1352.9 2015.46L1354.55 2014.72L1355.9 2014.36L1357.25 2014.72L1358.9 2015.46ZM1362 2015.46L1365.3 2014.5L1368 2013.96L1370.7 2014.5L1374 2015.46ZM1383 2015.46L1385.75 2014.88L1388 2014.66L1390.25 2014.88L1393 2015.46ZM1395 2015.46L1397.75 2014.88L1400 2014.66L1402.25 2014.88L1405 2015.46ZM1407 2015.46L1408.65 2014.94L1410 2014.76L1411.35 2014.94L1413 2015.46ZM1423.2 2015.46L1425.12 2014.67L1426.7 2014.26L1428.28 2014.67L1430.2 2015.46ZM1444 2015.46L1446.2 2014.88L1448 2014.66L1449.8 2014.88L1452 2015.46ZM1453 2015.46L1455.2 2014.83L1457 2014.56L1458.8 2014.83L1461 2015.46ZM1461.4 2015.46L1463.05 2014.67L1464.4 2014.26L1465.75 2014.67L1467.4 2015.46ZM1468.5 2015.46L1470.42 2014.67L1472 2014.26L1473.58 2014.67L1475.5 2015.46ZM1484 2015.46L1485.65 2014.94L1487 2014.76L1488.35 2014.94L1490 2015.46ZM1487 2015.46L1489.75 2014.78L1492 2014.46L1494.25 2014.78L1497 2015.46ZM1505.6 2015.46L1507.25 2014.88L1508.6 2014.66L1509.95 2014.88L1511.6 2015.46ZM1513.2 2015.46L1514.85 2014.88L1516.2 2014.66L1517.55 2014.88L1519.2 2015.46ZM1527.3 2015.46L1529.5 2014.5L1531.3 2013.96L1533.1 2014.5L1535.3 2015.46ZM1546 2015.46L1548.75 2014.78L1551 2014.46L1553.25 2014.78L1556 2015.46ZM1557 2015.46L1559.75 2014.72L1562 2014.36L1564.25 2014.72L1567 2015.46ZM1580 2015.46L1582.75 2014.67L1585 2014.26L1587.25 2014.67L1590 2015.46ZM1589 2015.46L1591.75 2014.67L1594 2014.26L1596.25 2014.67L1599 2015.46ZM1598 2015.46L1600.75 2014.67L1603 2014.26L1605.25 2014.67L1608 2015.46ZM1607 2015.46L1609.2 2014.78L1611 2014.46L1612.8 2014.78L1615 2015.46ZM1614.2 2015.46L1615.85 2014.83L1617.2 2014.56L1618.55 2014.83L1620.2 2015.46ZM1621.7 2015.46L1623.35 2014.83L1624.7 2014.56L1626.05 2014.83L1627.7 2015.46ZM1629.2 2015.46L1630.85 2014.83L1632.2 2014.56L1633.55 2014.83L1635.2 2015.46ZM1645.8 2015.46L1647.45 2014.94L1648.8 2014.76L1650.15 2014.94L1651.8 2015.46ZM1669.4 2015.46L1670.5 2014.94L1671.4 2014.76L1672.3 2014.94L1673.4 2015.46ZM1686 2015.46L1688.2 2014.94L1690 2014.76L1691.8 2014.94L1694 2015.46ZM1695 2015.46L1697.75 2014.83L1700 2014.56L1702.25 2014.83L1705 2015.46ZM1705 2015.46L1707.75 2014.78L1710 2014.46L1712.25 2014.78L1715 2015.46ZM1715 2015.46L1717.2 2014.83L1719 2014.56L1720.8 2014.83L1723 2015.46ZM1726.2 2015.46L1727.58 2014.88L1728.7 2014.66L1729.83 2014.88L1731.2 2015.46ZM1735.3 2015.46L1737.5 2014.56L1739.3 2014.06L1741.1 2014.56L1743.3 2015.46ZM1756.9 2015.46L1758.83 2014.61L1760.4 2014.16L1761.98 2014.61L1763.9 2015.46ZM1772.9 2015.46L1774.28 2014.94L1775.4 2014.76L1776.53 2014.94L1777.9 2015.46ZM1786 2015.46L1787.65 2014.94L1789 2014.76L1790.35 2014.94L1792 2015.46ZM1794 2015.46L1795.65 2014.88L1797 2014.66L1798.35 2014.88L1800 2015.46ZM1801 2015.46L1802.65 2014.88L1804 2014.66L1805.35 2014.88L1807 2015.46ZM1814.2 2015.46L1816.12 2014.17L1817.7 2013.36L1819.28 2014.17L1821.2 2015.46ZM1826.7 2015.46L1828.35 2014.83L1829.7 2014.56L1831.05 2014.83L1832.7 2015.46ZM1832.7 2015.46L1834.35 2014.83L1835.7 2014.56L1837.05 2014.83L1838.7 2015.46ZM1841.8 2015.46L1843.45 2014.83L1844.8 2014.56L1846.15 2014.83L1847.8 2015.46ZM1854.4 2015.46L1856.6 2014.5L1858.4 2013.96L1860.2 2014.5L1862.4 2015.46ZM1869.5 2015.46L1870.88 2014.94L1872 2014.76L1873.12 2014.94L1874.5 2015.46ZM1885.9 2015.46L1887.83 2014.61L1889.4 2014.16L1890.98 2014.61L1892.9 2015.46ZM1895 2015.46L1897.2 2014.39L1899 2013.76L1900.8 2014.39L1903 2015.46ZM1906.6 2015.46L1908.25 2014.67L1909.6 2014.26L1910.95 2014.67L1912.6 2015.46ZM1914.1 2015.46L1915.75 2014.72L1917.1 2014.36L1918.45 2014.72L1920.1 2015.46ZM1928 2015.46L1930.75 2014.72L1933 2014.36L1935.25 2014.72L1938 2015.46ZM1937 2015.46L1939.75 2014.67L1942 2014.26L1944.25 2014.67L1947 2015.46ZM1947 2015.46L1949.2 2014.83L1951 2014.56L1952.8 2014.83L1955 2015.46ZM1972 2015.46L1974.2 2014.83L1976 2014.56L1977.8 2014.83L1980 2015.46ZM1981 2015.46L1983.2 2014.83L1985 2014.56L1986.8 2014.83L1989 2015.46ZM1988 2015.46L1989.65 2014.94L1991 2014.76L1992.35 2014.94L1994 2015.46ZM1994.5 2015.46L1995.88 2014.94L1997 2014.76L1998.12 2014.94L1999.5 2015.46ZM1999.6 2015.46L2001.25 2014.83L2002.6 2014.56L2003.95 2014.83L2005.6 2015.46ZM2011 2015.46L2013.75 2014.72L2016 2014.36L2018.25 2014.72L2021 2015.46ZM2019 2015.46L2021.75 2014.83L2024 2014.56L2026.25 2014.83L2029 2015.46ZM2027 2015.46L2029.2 2014.83L2031 2014.56L2032.8 2014.83L2035 2015.46ZM2052 2015.46L2054.2 2014.72L2056 2014.36L2057.8 2014.72L2060 2015.46ZM2057 2015.46L2059.75 2014.61L2062 2014.16L2064.25 2014.61L2067 2015.46ZM2065 2015.46L2066.65 2014.83L2068 2014.56L2069.35 2014.83L2071 2015.46ZM2074.9 2015.46L2076.28 2014.83L2077.4 2014.56L2078.53 2014.83L2079.9 2015.46ZM2084 2015.46L2085.65 2014.88L2087 2014.66L2088.35 2014.88L2090 2015.46ZM2110 2015.46L2111.65 2014.28L2113 2013.56L2114.35 2014.28L2116 2015.46ZM2121.5 2015.46L2123.43 2014.88L2125 2014.66L2126.57 2014.88L2128.5 2015.46ZM2144.3 2015.46L2146.23 2014.83L2147.8 2014.56L2149.38 2014.83L2151.3 2015.46ZM2160.5 2015.46L2162.15 2014.78L2163.5 2014.46L2164.85 2014.78L2166.5 2015.46ZM2188.8 2015.46L2190.18 2014.78L2191.3 2014.46L2192.43 2014.78L2193.8 2015.46ZM2205.2 2015.46L2207.12 2014.88L2208.7 2014.66L2210.27 2014.88L2212.2 2015.46ZM2222 2015.46L2224.2 2014.72L2226 2014.36L2227.8 2014.72L2230 2015.46ZM2227 2015.46L2229.2 2014.5L2231 2013.96L2232.8 2014.5L2235 2015.46ZM2236 2015.46L2238.2 2014.17L2240 2013.36L2241.8 2014.17L2244 2015.46ZM2242 2015.46L2244.2 2013.95L2246 2012.96L2247.8 2013.95L2250 2015.46ZM2247 2015.46L2249.2 2014.17L2251 2013.36L2252.8 2014.17L2255 2015.46ZM2252.7 2015.46L2254.24 2014.5L2255.5 2013.96L2256.76 2014.5L2258.3 2015.46Z" fill="#EE2C2C"/>
<path d="M369.54 2519.03L370.14 2517.12L377.39 2515.55L383.19 2513.36L388.99 2516.18L394.78 2515.86L403.48 2516.8L412.17 2517.12L417.97 2516.49L420.58 2518.68L424.93 2518.68L426.09 2517.74L432.46 2516.49L439.71 2514.93L446.96 2516.49L452.75 2515.86L458.55 2514.61L462.9 2517.12L468.7 2512.42L474.49 2515.55L478.84 2516.49L484.64 2514.93L491.88 2514.3L497.68 2515.55L502.03 2517.12L510.72 2516.49L515.07 2517.74L519.42 2514.93L523.77 2513.36L529.57 2514.93L533.91 2517.43L536.81 2518.06L541.16 2516.18L548.41 2516.8L552.75 2516.49L557.1 2517.74L562.9 2516.8L568.7 2515.55L573.04 2517.74L577.39 2517.12L584.64 2514.93L587.54 2516.18L591.88 2513.99L596.23 2516.8L600.58 2515.55L604.93 2512.42L608.7 2516.8L612.17 2513.99L616.52 2517.12L620.87 2516.18L626.67 2516.49L631.01 2515.55L633.91 2518.06L637.39 2514.61L641.16 2518.06L645.51 2514.93L648.41 2513.05L652.75 2515.86L658.55 2516.18L662.9 2517.12L667.25 2516.18L671.59 2514.3L677.39 2517.12L680.29 2517.74L684.64 2514.93L690.43 2517.43L694.78 2515.86L700.58 2517.74L706.38 2516.18L710.72 2518.06L715.07 2515.86L719.42 2517.74L723.77 2516.18L727.54 2513.36L731.01 2517.12L736.81 2516.8L745.51 2515.86L751.3 2515.55L755.65 2511.8L760 2513.05L765.8 2513.36L770.14 2514.3L774.49 2517.43L778.84 2517.12L784.64 2515.55L790.43 2514.3L796.23 2514.61L800.58 2516.8L806.38 2517.74L812.17 2515.86L817.97 2517.12L823.77 2516.18L831.01 2514.3L835.36 2514.93L838.26 2517.74L842.61 2516.18L845.51 2511.8L849.86 2515.55L850 2516.18L854.35 2517.74L860.14 2514.3L863.91 2517.12L867.97 2514.93L871.74 2516.8L876.09 2516.18L881.88 2517.43L886.23 2516.8L892.9 2515.24L896.38 2517.43L902.17 2514.61L907.97 2516.49L916.67 2517.43L926.81 2516.18L934.06 2518.06L939.86 2516.49L945.65 2515.86L950 2518.06L951.16 2518.68L952.32 2518.68L953.19 2514.3L955.8 2513.36L957.83 2514.93L960.14 2513.36L964.49 2516.18L967.39 2514.93L971.74 2517.43L977.54 2514.93L983.33 2516.49L987.68 2515.55L993.48 2517.74L1000.72 2514.93L1005.07 2515.55L1009.42 2514.3L1013.77 2512.42L1018.12 2515.55L1023.91 2516.49L1031.16 2516.18L1038.41 2517.74L1047.1 2516.18L1055.8 2513.67L1063.04 2516.18L1068.84 2517.43L1081.88 2515.55L1090.58 2516.49L1097.83 2517.12L1102.17 2515.24L1107.97 2517.12L1115.22 2516.49L1118.12 2517.74L1128.26 2515.24L1132.61 2516.18L1138.41 2513.05L1141.3 2516.8L1151.45 2516.18L1158.7 2515.55L1164.49 2517.12L1173.19 2510.86L1177.54 2517.12L1183.33 2517.43L1190.58 2514.93L1197.83 2517.74L1203.62 2515.86L1207.97 2516.49L1212.32 2511.8L1215.8 2515.86L1219.57 2514.93L1223.91 2512.42L1229.71 2515.24L1238.41 2517.74L1244.2 2517.74L1254.35 2513.36L1261.59 2517.43L1273.19 2514.3L1277.54 2516.8L1284.78 2515.86L1289.13 2517.12L1293.48 2515.55L1297.83 2518.37L1303.62 2514.93L1307.97 2517.74L1315.22 2515.86L1323.04 2511.17L1326.81 2517.74L1332.61 2516.49L1338.41 2514.93L1340 2517.74L1345.8 2515.86L1353.04 2518.06L1357.39 2515.86L1361.74 2516.8L1368.12 2512.73L1373.33 2517.43L1377.68 2517.74L1383.48 2514.93L1389.28 2515.86L1393.62 2515.24L1399.42 2514.61L1403.19 2518.06L1408.12 2516.8L1413.91 2517.74L1419.71 2518.06L1426.96 2514.3L1432.75 2513.67L1437.1 2514.93L1442.03 2513.36L1445.8 2516.8L1451.59 2517.12L1457.39 2513.67L1461.74 2515.55L1466.09 2514.61L1471.88 2517.74L1477.68 2517.43L1482.03 2515.86L1486.38 2516.18L1491.3 2513.36L1495.07 2517.74L1500.87 2517.43L1506.67 2511.48L1511.01 2514.61L1513.91 2513.67L1519.71 2517.12L1525.51 2512.42L1531.3 2512.42L1535.65 2516.49L1540 2517.43L1544.35 2515.86L1548.7 2516.8L1554.49 2515.86L1558.84 2514.93L1561.74 2517.12L1564.64 2514.61L1568.99 2516.8L1571.88 2515.55L1580.58 2516.18L1589.28 2514.61L1595.07 2517.12L1603.77 2518.37L1611.01 2515.86L1616.81 2515.24L1621.16 2513.99L1624.06 2517.12L1631.3 2517.74L1638.55 2515.86L1642.9 2516.8L1647.25 2515.86L1653.04 2514.3L1658.84 2514.3L1663.19 2517.12L1670.43 2518.06L1677.68 2517.12L1683.48 2517.43L1690.72 2515.86L1694.2 2518.06L1699.42 2515.86L1705.22 2514.61L1708.12 2515.86L1711.88 2513.67L1714.49 2518.37L1719.71 2515.86L1724.06 2514.61L1728.41 2516.8L1731.88 2513.99L1734.78 2517.74L1740.87 2512.42L1745.8 2514.3L1750.14 2513.99L1754.49 2513.05L1757.39 2516.8L1764.64 2517.43L1768.99 2515.86L1773.33 2517.12L1777.68 2516.18L1782.03 2515.55L1787.83 2517.12L1795.07 2516.18L1803.77 2517.12L1812.46 2518.06L1816.81 2514.3L1821.16 2517.43L1828.41 2515.55L1830 2517.12L1837.25 2512.42L1841.59 2516.8L1845.94 2515.86L1850.29 2518.06L1854.64 2516.18L1858.99 2514.61L1864.78 2517.74L1869.71 2514.61L1873.48 2517.43L1877.83 2518.37L1883.62 2517.43L1890 2511.48L1894.35 2517.43L1901.01 2517.43L1908.26 2515.55L1914.06 2517.43L1920.43 2515.55L1927.1 2517.74L1932.9 2516.49L1941.59 2514.61L1945.94 2516.8L1948.55 2518.68L1950.58 2518.68L1953.19 2517.12L1958.99 2516.8L1966.23 2515.24L1972.03 2516.8L1976.96 2514.93L1980.72 2516.8L1990.87 2516.18L1998.12 2517.12L2005.36 2514.93L2010.29 2517.43L2015.51 2516.49L2019.86 2514.3L2023.62 2516.18L2027.68 2513.99L2032.9 2517.12L2037.25 2518.06L2043.04 2516.8L2047.97 2512.11L2051.74 2514.61L2054.64 2513.36L2058.41 2517.12L2061.88 2513.99L2066.23 2512.42L2072.03 2513.99L2075.8 2513.36L2079.86 2516.49L2085.65 2513.67L2089.42 2516.8L2096.67 2517.43L2102.46 2517.74L2104.49 2518.68L2106.81 2518.68L2108.26 2516.8L2112.61 2513.99L2116.96 2515.86L2121.3 2517.43L2128.55 2516.8L2132.9 2515.86L2137.25 2517.74L2145.94 2514.93L2151.74 2516.18L2158.99 2516.8L2163.33 2517.43L2166.81 2515.86L2169.71 2517.74L2174.06 2514.3L2179.28 2518.06L2184.2 2518.68L2186.52 2518.68L2189.42 2517.12L2195.22 2518.06L2199.57 2517.74L2203.91 2516.18L2208.26 2515.55L2215.51 2513.99L2221.3 2515.86L2227.1 2516.18L2232.9 2517.74L2244.49 2518.37L2248.84 2516.18L2251.74 2514.61L2256.09 2513.67L2258.41 2515.55L2258.99 2518.68L2259.59 2519.03Z" fill="#000"/>
<g fill="none" stroke="#00008B" stroke-width="4.3" stroke-linejoin="round">
<path d="M420.5 2820.72H2208.2" stroke-width="4.6"/>
<path d="M412.2 2812.32L420.5 2820.72L412.2 2829.12M450.01 2812.32L458.31 2820.72L450.01 2829.12M487.82 2812.32L496.12 2820.72L487.82 2829.12M525.63 2812.32L533.93 2820.72L525.63 2829.12M563.44 2812.32L571.74 2820.72L563.44 2829.12M601.25 2812.32L609.55 2820.72L601.25 2829.12M639.06 2812.32L647.36 2820.72L639.06 2829.12M676.87 2812.32L685.17 2820.72L676.87 2829.12M714.68 2812.32L722.98 2820.72L714.68 2829.12M752.49 2812.32L760.79 2820.72L752.49 2829.12M790.3 2812.32L798.6 2820.72L790.3 2829.12M828.11 2812.32L836.41 2820.72L828.11 2829.12M865.92 2812.32L874.22 2820.72L865.92 2829.12M903.73 2812.32L912.03 2820.72L903.73 2829.12M941.54 2812.32L949.84 2820.72L941.54 2829.12M979.35 2812.32L987.65 2820.72L979.35 2829.12M1017.16 2812.32L1025.46 2820.72L1017.16 2829.12M1054.97 2812.32L1063.27 2820.72L1054.97 2829.12M1092.78 2812.32L1101.08 2820.72L1092.78 2829.12M1130.59 2812.32L1138.89 2820.72L1130.59 2829.12M1168.4 2812.32L1176.7 2820.72L1168.4 2829.12M1206.21 2812.32L1214.51 2820.72L1206.21 2829.12M1244.02 2812.32L1252.32 2820.72L1244.02 2829.12M1281.83 2812.32L1290.13 2820.72L1281.83 2829.12M1319.64 2812.32L1327.94 2820.72L1319.64 2829.12M1357.45 2812.32L1365.75 2820.72L1357.45 2829.12M1395.26 2812.32L1403.56 2820.72L1395.26 2829.12M1433.07 2812.32L1441.37 2820.72L1433.07 2829.12M1470.88 2812.32L1479.18 2820.72L1470.88 2829.12M1508.69 2812.32L1516.99 2820.72L1508.69 2829.12M1546.5 2812.32L1554.8 2820.72L1546.5 2829.12M1584.31 2812.32L1592.61 2820.72L1584.31 2829.12M1622.12 2812.32L1630.42 2820.72L1622.12 2829.12M1659.93 2812.32L1668.23 2820.72L1659.93 2829.12M1697.74 2812.32L1706.04 2820.72L1697.74 2829.12M1735.55 2812.32L1743.85 2820.72L1735.55 2829.12M1773.36 2812.32L1781.66 2820.72L1773.36 2829.12M1811.17 2812.32L1819.47 2820.72L1811.17 2829.12M1848.98 2812.32L1857.28 2820.72L1848.98 2829.12M1886.79 2812.32L1895.09 2820.72L1886.79 2829.12M1924.6 2812.32L1932.9 2820.72L1924.6 2829.12M1962.41 2812.32L1970.71 2820.72L1962.41 2829.12M2000.22 2812.32L2008.52 2820.72L2000.22 2829.12M2038.03 2812.32L2046.33 2820.72L2038.03 2829.12M2075.84 2812.32L2084.14 2820.72L2075.84 2829.12M2113.65 2812.32L2121.95 2820.72L2113.65 2829.12M2151.46 2812.32L2159.76 2820.72L2151.46 2829.12M2189.27 2812.32L2197.57 2820.72L2189.27 2829.12M2199.9 2812.32L2208.2 2820.72L2199.9 2829.12"/>
</g>
<path d="M420.2 2807.1H425.65V2834.5H420.2ZM677.1 2807.1H682.9V2834.5H677.1ZM910.4 2807.1H925.8V2834.5H910.4ZM1108.4 2807.1H1119.7V2834.5H1108.4ZM1229.9 2807.1H1237.4V2834.5H1229.9ZM1291 2807.1H1299.7V2834.5H1291ZM1716.6 2807.1H1734.2V2834.5H1716.6ZM1929 2807.1H1936.3V2834.5H1929ZM2203.1 2807.1H2208.7V2834.5H2203.1ZM430.25 2807.1H431.95V2834.5H430.25ZM665.9 2807.1H668.9V2834.5H665.9ZM758.85 2807.1H761.35V2834.5H758.85ZM827.2 2807.1H830.2V2834.5H827.2ZM879.75 2807.1H881.45V2834.5H879.75ZM1010.65 2807.1H1013.15V2834.5H1010.65ZM1082.8 2807.1H1085.8V2834.5H1082.8ZM1203.3 2807.1H1205.3V2834.5H1203.3ZM1319.9 2807.1H1321.9V2834.5H1319.9ZM1370 2807.1H1372V2834.5H1370ZM1401.4 2807.1H1404.4V2834.5H1401.4ZM1457.15 2807.1H1461.65V2834.5H1457.15ZM1505.05 2807.1H1506.55V2834.5H1505.05ZM1521.95 2807.1H1524.45V2834.5H1521.95ZM1545.15 2807.1H1547.65V2834.5H1545.15ZM1609.85 2807.1H1611.55V2834.5H1609.85ZM1651.4 2807.1H1656.4V2834.5H1651.4ZM1693.5 2807.1H1695.5V2834.5H1693.5ZM1786.75 2807.1H1788.25V2834.5H1786.75ZM1806.05 2807.1H1809.55V2834.5H1806.05ZM1834.15 2807.1H1836.65V2834.5H1834.15ZM1848.6 2807.1H1850.6V2834.5H1848.6ZM1938.85 2807.1H1942.35V2834.5H1938.85ZM1948.05 2807.1H1950.55V2834.5H1948.05ZM1974.95 2807.1H1977.45V2834.5H1974.95ZM2024.8 2807.1H2026.8V2834.5H2024.8ZM2061.95 2807.1H2064.45V2834.5H2061.95ZM2104.75 2807.1H2106.85V2834.5H2104.75ZM2116.9 2807.1H2119.5V2834.5H2116.9ZM2139.1 2807.1H2140.9V2834.5H2139.1ZM2154.2 2807.1H2156V2834.5H2154.2ZM2182.8 2807.1H2185.8V2834.5H2182.8Z" fill="#00008B"/>
<g fill="none" stroke="#006400" stroke-width="4.45" stroke-linejoin="round">
<path d="M2220.6 2669.5H2258.6"/>
<path d="M2267.2 2661.1L2258.6 2669.5L2267.2 2677.9"/>
<path d="M2222 2668.1L2220.6 2669.5L2222 2670.9"/>
</g>
<path d="M2220.9 2656.1H2230.9V2682.9H2220.9ZM2240.85 2656.1H2241.95V2682.9H2240.85Z" fill="#006400"/>
<g opacity="0.999">
<text transform="matrix(1.0571 0 0 1.0139 99.69 518)" font-size="36.67" fill="#4D4D4D">0</text>
<text transform="matrix(1.0149 0 0 1.0152 99.75 378)" font-size="36.67" fill="#4D4D4D">2</text>
<text transform="matrix(1.0541 0 0 0.9970 99.73 239)" font-size="36.67" fill="#4D4D4D">4</text>
<text transform="matrix(1.0882 0 0 1.0139 99.37 99)" font-size="36.67" fill="#4D4D4D">6</text>
<text transform="matrix(1.0320 0 0 1.0064 173.3 299)" font-size="36.67" fill="#1A1A1A">KI-1</text>
<text transform="matrix(1.0571 0 0 1.0139 99.69 1021)" font-size="36.67" fill="#4D4D4D">0</text>
<text transform="matrix(1.0149 0 0 1.0152 99.75 882)" font-size="36.67" fill="#4D4D4D">2</text>
<text transform="matrix(1.0541 0 0 0.9970 99.73 742)" font-size="36.67" fill="#4D4D4D">4</text>
<text transform="matrix(1.0882 0 0 1.0139 99.37 603)" font-size="36.67" fill="#4D4D4D">6</text>
<text transform="matrix(1.0280 0 0 1.0152 173.31 803)" font-size="36.67" fill="#1A1A1A">KI-2</text>
<text transform="matrix(1.0571 0 0 1.0139 99.69 1525)" font-size="36.67" fill="#4D4D4D">0</text>
<text transform="matrix(1.0149 0 0 1.0152 99.75 1385)" font-size="36.67" fill="#4D4D4D">2</text>
<text transform="matrix(1.0541 0 0 0.9970 99.73 1246)" font-size="36.67" fill="#4D4D4D">4</text>
<text transform="matrix(1.0882 0 0 1.0139 99.37 1107)" font-size="36.67" fill="#4D4D4D">6</text>
<text transform="matrix(1.0093 0 0 1.0139 164.83 1306)" font-size="36.67" fill="#1A1A1A">KO-1</text>
<text transform="matrix(1.0571 0 0 1.0139 99.69 2028)" font-size="36.67" fill="#4D4D4D">0</text>
<text transform="matrix(1.0149 0 0 1.0152 99.75 1889)" font-size="36.67" fill="#4D4D4D">2</text>
<text transform="matrix(1.0541 0 0 0.9970 99.73 1750)" font-size="36.67" fill="#4D4D4D">4</text>
<text transform="matrix(1.0882 0 0 1.0139 99.37 1610)" font-size="36.67" fill="#4D4D4D">6</text>
<text transform="matrix(1.0062 0 0 1.0139 164.84 1810)" font-size="36.67" fill="#1A1A1A">KO-2</text>
<text transform="matrix(1.0571 0 0 1.0139 99.69 2532)" font-size="36.67" fill="#4D4D4D">0</text>
<text transform="matrix(1.0149 0 0 1.0152 99.75 2392)" font-size="36.67" fill="#4D4D4D">2</text>
<text transform="matrix(1.0541 0 0 0.9970 99.73 2253)" font-size="36.67" fill="#4D4D4D">4</text>
<text transform="matrix(1.0882 0 0 1.0139 99.37 2114)" font-size="36.67" fill="#4D4D4D">6</text>
<text transform="matrix(1.1640 0 0 0.9935 160.56 2313)" font-size="36.67" fill="#1A1A1A">Input</text>
<text transform="matrix(1.1530 0 0 1.0139 551.26 2894)" font-size="36.67" fill="#4D4D4D">118400000</text>
<text transform="matrix(1.1530 0 0 1.0139 963.96 2894)" font-size="36.67" fill="#4D4D4D">118420000</text>
<text transform="matrix(1.1530 0 0 1.0139 1376.66 2894)" font-size="36.67" fill="#4D4D4D">118440000</text>
<text transform="matrix(1.1530 0 0 1.0139 1789.36 2894)" font-size="36.67" fill="#4D4D4D">118460000</text>
<text transform="matrix(1.1530 0 0 1.0139 2202.06 2894)" font-size="36.67" fill="#4D4D4D">118480000</text>
<text transform="matrix(1.1239 0 0 1.0063 1111.23 2945)" font-size="45.83" fill="#000">chr2</text>
<text transform="matrix(1.1414 0 0 0.9889 1228.61 2944)" font-size="45.83" fill="#000">position</text>
<text transform="matrix(1.1316 0 0 0.9889 1424.77 2944)" font-size="45.83" fill="#000">(bp)</text>
<text transform="matrix(1.1079 0 0 1.0046 1259.37 2801)" font-size="29.5" fill="#000">Eif2ak4</text>
<text transform="matrix(1.0951 0 0 0.9852 2196.9 2650)" font-size="29.5" fill="#000">Srp14</text>
<text transform="translate(79 1546.68) rotate(-90) scale(0.9752 1.0585)" font-size="45.83" fill="#000">P0</text>
<text transform="translate(79 1475.76) rotate(-90) scale(1.0947 1.0585)" font-size="45.83" fill="#000">H3K4me3</text>
<text transform="translate(79 1236.6) rotate(-90) scale(1.0350 1.0305)" font-size="45.83" fill="#000">ChIP-seq</text>
<text transform="translate(79 2795.52) rotate(-90) scale(1.0687 1.0585)" font-size="45.83" fill="#000">Genes</text>
</g>
</svg>
</body></html>
